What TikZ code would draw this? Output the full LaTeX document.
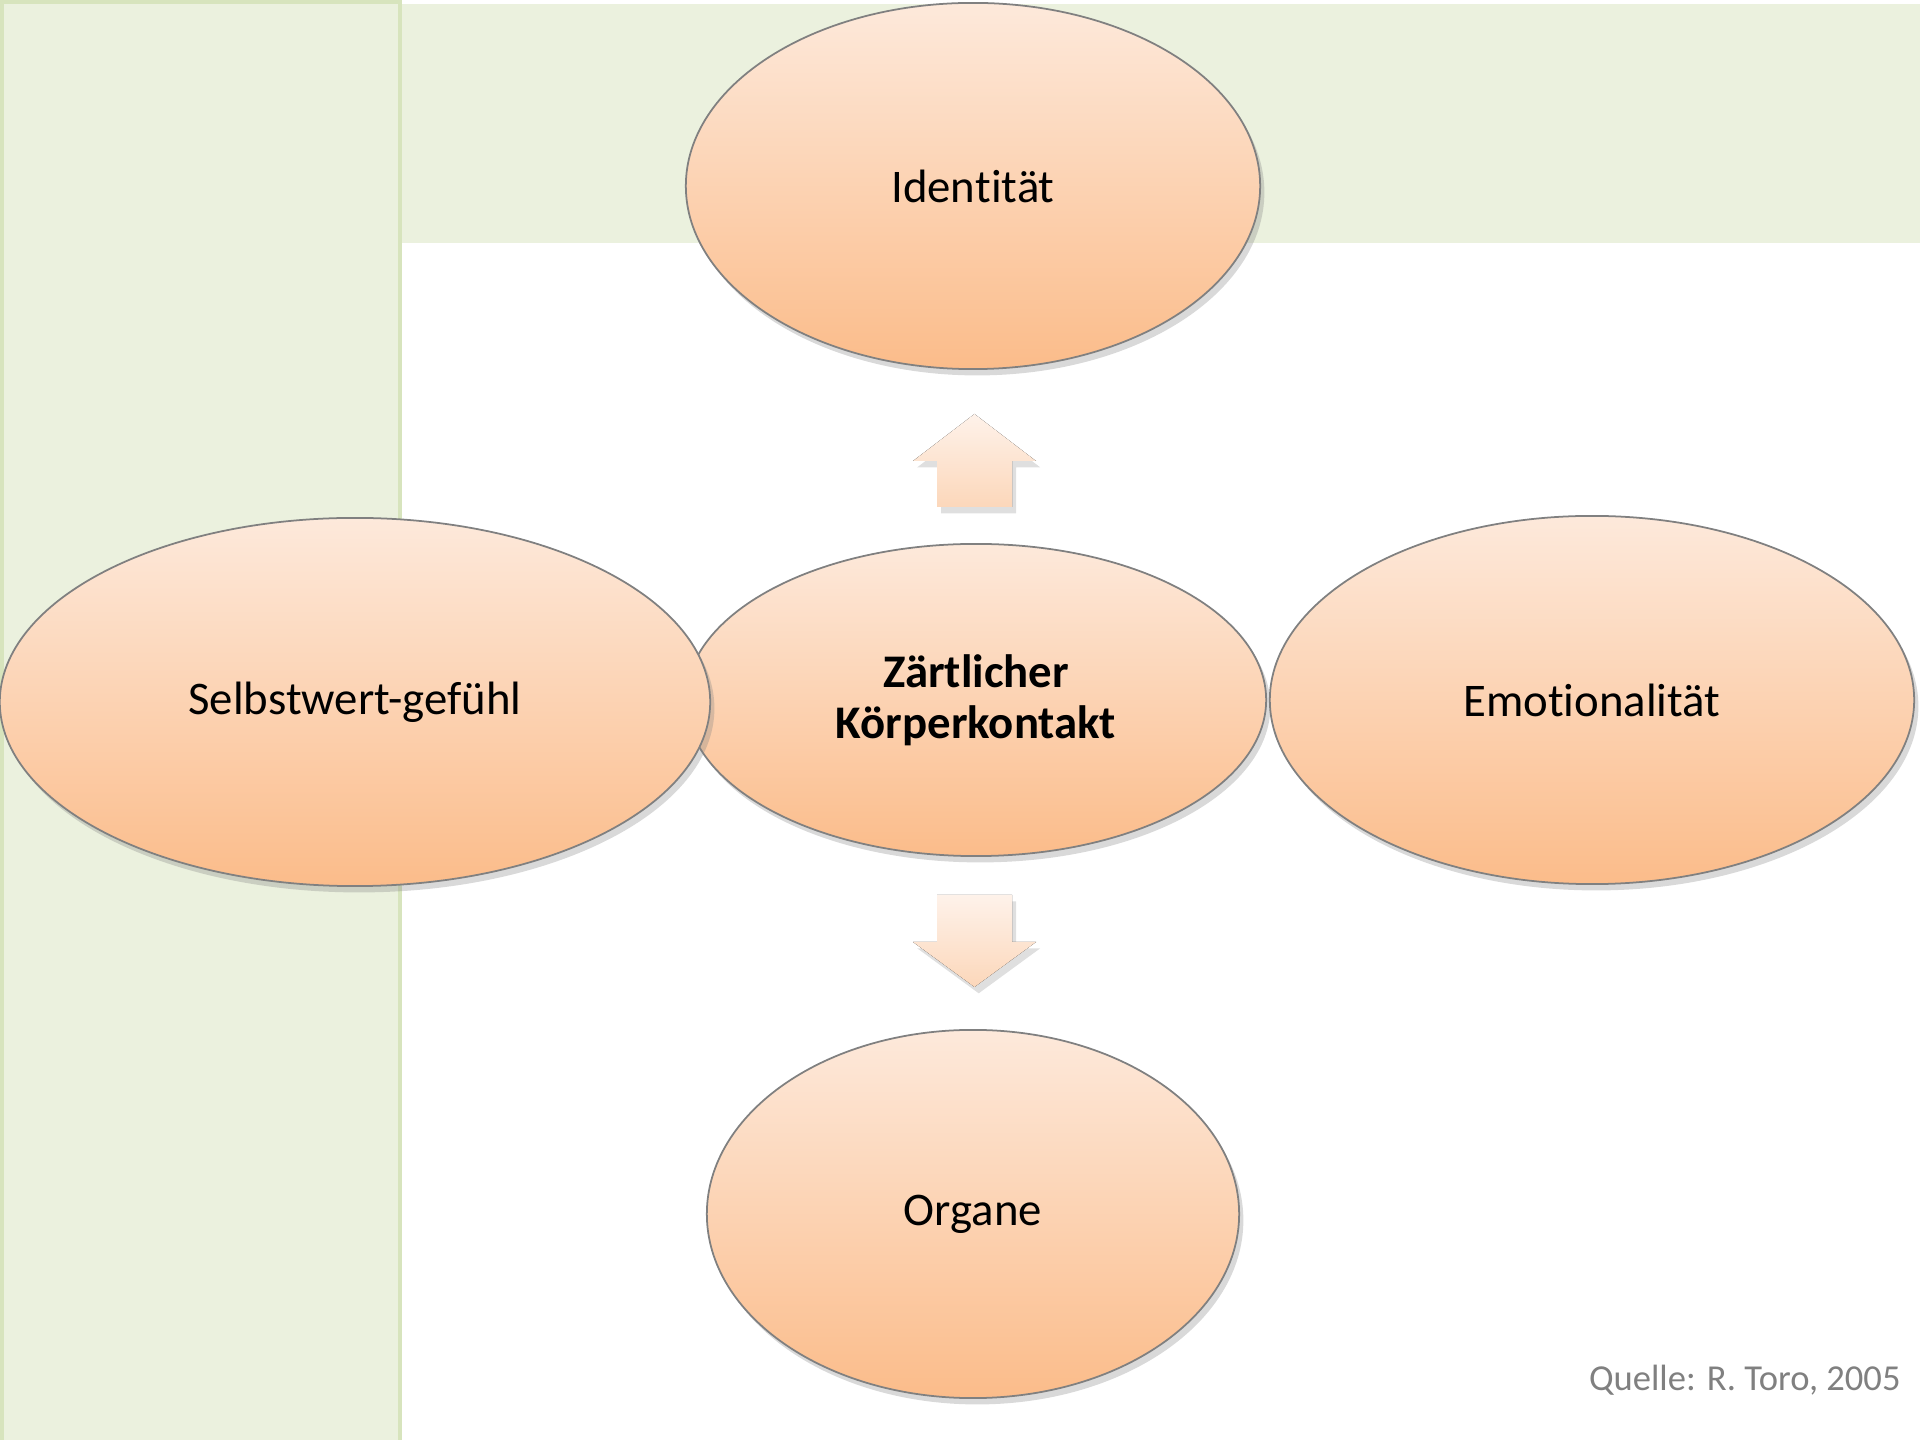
\documentclass[tikz,border=0pt]{standalone}
\usepackage{fontspec}
\setmainfont[RawFeature={-liga,-clig,-calt,-dlig}]{Carlito}
\usetikzlibrary{shapes.geometric,shadows}

\definecolor{bandfill}{HTML}{EBF1DE}
\definecolor{bandline}{HTML}{D7E4BD}
\definecolor{peachtop}{HTML}{FDE9DB}
\definecolor{peachbot}{HTML}{FBBC8A}
\definecolor{arrowtop}{HTML}{FEF2EA}
\definecolor{arrowbot}{HTML}{FCD7BA}

\tikzset{
    bubble/.style={ellipse, draw=black!50, line width=0.5pt, inner sep=0pt,
        top color=peachtop, bottom color=peachbot, align=center,
        font=\fontsize{13.3}{14.6}\selectfont,
        drop shadow={shadow xshift=1.2pt, shadow yshift=-1.8pt, opacity=0.3}},
    blockarrow/.style={top color=arrowtop, bottom color=arrowbot,
        drop shadow={shadow xshift=1.2pt, shadow yshift=-1.8pt, opacity=0.25}}
}

\begin{document}
\begin{tikzpicture}[x=0.01cm, y=-0.01cm]
    \useasboundingbox (0, 0) rectangle (1920, 1440);
    % background bands
    \fill[bandfill] (402, 4) rectangle (1920, 243);
    \draw[bandline, fill=bandfill, line width=1.4pt] (2, 2) rectangle (400, 1445);

    \node[bubble, minimum width=5.74cm, minimum height=3.66cm] (ident) at (973, 186) {Iden\kern0pt ti\kern0pt tät};
    \node[bubble, minimum width=5.80cm, minimum height=3.12cm] (kontakt) at (976, 700) {\textbf{Zärtlicher}\\\textbf{Körperkontakt}};
    \node[bubble, minimum width=7.10cm, minimum height=3.68cm] (selbst) at (355, 702) {Selbstwert-gefühl};
    \node[bubble, minimum width=6.44cm, minimum height=3.68cm] (emot) at (1592, 700) {Emo\kern0pt tionali\kern0pt tät};
    \node[bubble, minimum width=5.32cm, minimum height=3.68cm] (organe) at (973, 1214) {Organe};

    % block arrows
    \fill[blockarrow] (913, 461) -- (974.5, 414) -- (1036, 461) -- (1012, 461)
        -- (1012, 507) -- (937, 507) -- (937, 461) -- cycle;
    \fill[blockarrow] (937, 895) -- (1012, 895) -- (1012, 942) -- (1036, 942)
        -- (974.5, 987) -- (913, 942) -- (937, 942) -- cycle;

    \node[anchor=east, text=black!50, font=\fontsize{10.4}{12}\selectfont] (quelle) at (1913, 1380) {Quelle: R. Toro, 2005};
\end{tikzpicture}
\end{document}
